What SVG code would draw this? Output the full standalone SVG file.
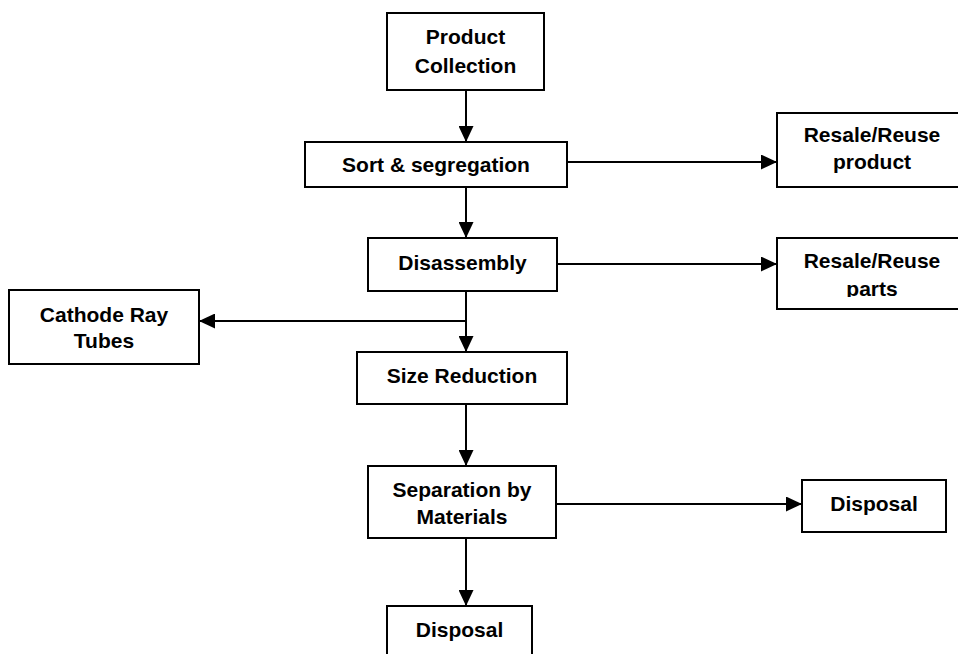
<svg xmlns="http://www.w3.org/2000/svg" width="958" height="654" viewBox="0 0 958 654">
  <style>
    .box { fill: #fff; stroke: #000; stroke-width: 2; }
    .lbl { font-family: "Liberation Sans", Arial, sans-serif; font-weight: bold; font-size: 21px; fill: #000; text-anchor: middle; }
    .link { fill: none; stroke: #000; stroke-width: 2; }
    .arrow { marker-end: url(#head); }
  </style>
  <defs>
    <marker id="head" markerUnits="userSpaceOnUse" markerWidth="16" markerHeight="15" refX="16" refY="7.5" orient="auto">
      <path d="M0,0 L16,7.5 L0,15 Z" fill="#000"/>
    </marker>
    <clipPath id="partsClip">
      <rect x="778" y="239" width="180" height="58"/>
    </clipPath>
  </defs>
  <rect width="958" height="654" fill="#fff"/>

  <g id="connectors">
    <line class="link arrow" x1="466" y1="90" x2="466" y2="142"/>
    <line class="link arrow" x1="567" y1="162" x2="777" y2="162"/>
    <line class="link arrow" x1="466" y1="187" x2="466" y2="238"/>
    <line class="link arrow" x1="557" y1="264" x2="777" y2="264"/>
    <line class="link arrow" x1="466" y1="291" x2="466" y2="352"/>
    <line class="link arrow" x1="466" y1="321" x2="199" y2="321"/>
    <line class="link arrow" x1="466" y1="404" x2="466" y2="466"/>
    <line class="link arrow" x1="556" y1="504" x2="802" y2="504"/>
    <line class="link arrow" x1="466" y1="538" x2="466" y2="606"/>
  </g>

  <g id="product-collection">
    <rect class="box" x="387" y="13" width="157" height="77"/>
    <text class="lbl" x="465.5" y="44">Product</text>
    <text class="lbl" x="465.5" y="73">Collection</text>
  </g>

  <g id="sort-segregation">
    <rect class="box" x="305" y="142" width="262" height="45"/>
    <text class="lbl" x="436" y="172">Sort &amp; segregation</text>
  </g>

  <g id="resale-product">
    <rect class="box" x="777" y="113" width="190" height="74"/>
    <text class="lbl" x="872" y="142">Resale/Reuse</text>
    <text class="lbl" x="872" y="169">product</text>
  </g>

  <g id="disassembly">
    <rect class="box" x="368" y="238" width="189" height="53"/>
    <text class="lbl" x="462.5" y="270">Disassembly</text>
  </g>

  <g id="resale-parts">
    <rect class="box" x="777" y="238" width="190" height="71"/>
    <text class="lbl" x="872" y="268">Resale/Reuse</text>
    <text class="lbl" x="872" y="296" clip-path="url(#partsClip)">parts</text>
  </g>

  <g id="cathode-ray-tubes">
    <rect class="box" x="9" y="290" width="190" height="74"/>
    <text class="lbl" x="104" y="322">Cathode Ray</text>
    <text class="lbl" x="104" y="348">Tubes</text>
  </g>

  <g id="size-reduction">
    <rect class="box" x="357" y="352" width="210" height="52"/>
    <text class="lbl" x="462" y="383">Size Reduction</text>
  </g>

  <g id="separation">
    <rect class="box" x="368" y="466" width="188" height="72"/>
    <text class="lbl" x="462" y="497">Separation by</text>
    <text class="lbl" x="462" y="524">Materials</text>
  </g>

  <g id="disposal-side">
    <rect class="box" x="802" y="480" width="144" height="52"/>
    <text class="lbl" x="874" y="511">Disposal</text>
  </g>

  <g id="disposal-bottom">
    <rect class="box" x="387" y="606" width="145" height="60"/>
    <text class="lbl" x="459.5" y="637">Disposal</text>
  </g>
</svg>
